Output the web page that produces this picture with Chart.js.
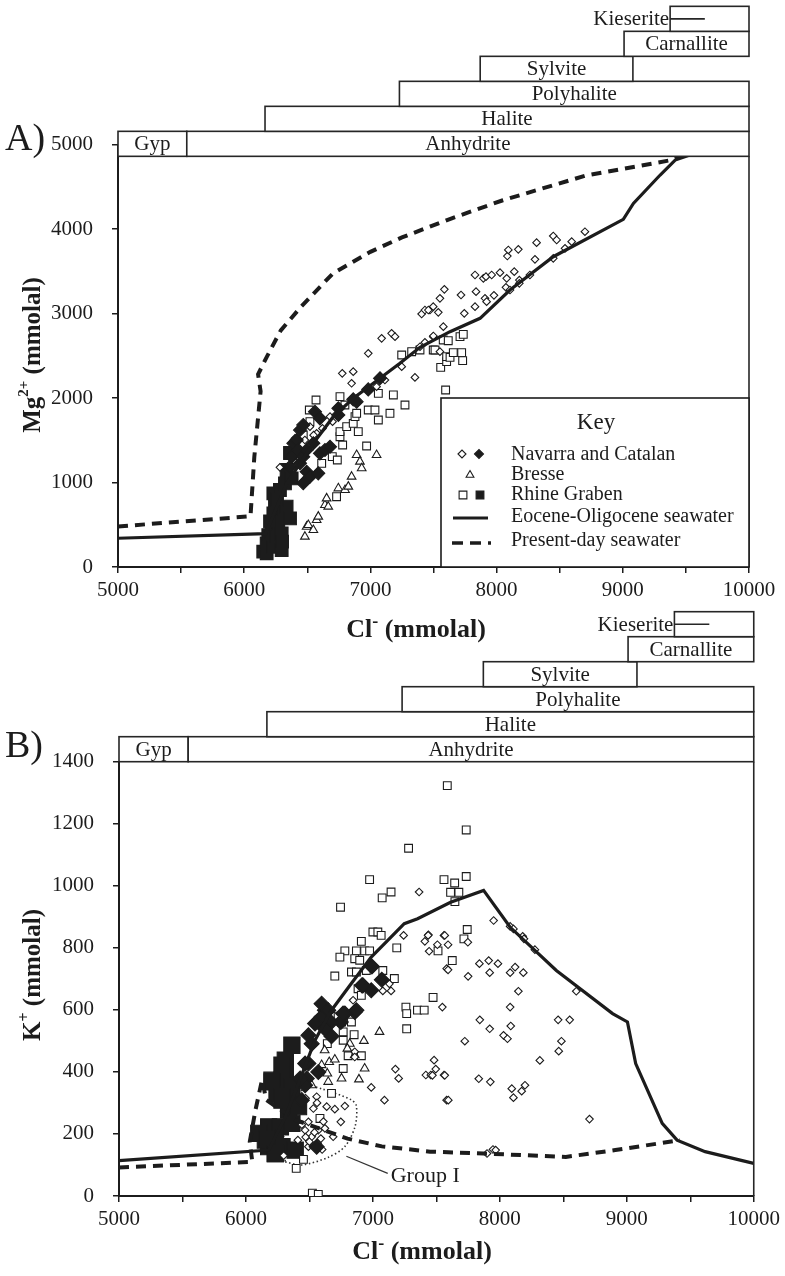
<!DOCTYPE html>
<html lang="en">
<head>
<meta charset="UTF-8">
<title>Mg and K versus Cl</title>
<script src="https://cdn.jsdelivr.net/npm/chart.js@4.4.0/dist/chart.umd.min.js"></script>
<style>
  body { margin: 0; background: #fff; overflow: hidden; }
  #wrap { position: relative; width: 785px; height: 1276px; }
  canvas { position: absolute; left: 0; }
  #chartA { top: 0; }
  #chartB { top: 590px; }
</style>
</head>
<body>
<div id="wrap">
  <canvas id="chartA" width="785" height="650"></canvas>
  <canvas id="chartB" width="785" height="686"></canvas>
</div>
<script>
// ---- series names ----
const seriesNames = ['Navarra and Catalan', 'Bresse', 'Rhine Graben', 'Eocene-Oligocene seawater', 'Present-day seawater'];

// ---- evaporite mineral fields (Cl- mmolal) ----
const mineralNames = ['Gyp', 'Anhydrite', 'Halite', 'Polyhalite', 'Sylvite', 'Carnallite', 'Kieserite'];
const mineralFrom  = [5000, 5545, 6165, 7230, 7870, 9010, 9375];
const mineralTo    = [5545, 10000, 10000, 10000, 9080, 10000, 10000];
const mineralLevel = [0, 0, 1, 2, 3, 4, 5];
const kieseriteMark = 9650;

// ---- A) Mg2+ vs Cl- ----
const navOpenA = [
  [6283,1179],[6402,1523],[6481,1503],[6521,1661],[6574,1582],[6680,1779],[6620,1640],[6700,1720],[6550,1560],
  [6777,2292],[6864,2312],[6851,2174],[6983,2529],[7049,2134],[7115,2213],[7089,2706],[7168,2765],[7195,2726],
  [7248,2371],[7353,2244],[7406,2994],[7432,3041],[7472,3041],[7498,3081],[7538,3014],[7551,3179],[7586,3286],
  [7578,2844],[7432,2659],[7498,2726],[7551,2548],[7393,2607],[7459,3041],[7499,2734],
  [7718,3219],[7744,3002],[7829,3081],[7908,3180],[7921,3140],[7979,3215],[7837,3258],[7829,3456],[7895,3416],
  [7916,3436],[7961,3456],[8027,3483],[8074,3310],[8080,3416],[8140,3495],[8085,3680],[8093,3752],[8172,3759],
  [8180,3396],[8106,3278],[8180,3357],[8264,3456],[8304,3641],[8449,3653],[8317,3838],[8449,3917],[8476,3870],
  [8542,3771],[8595,3850],[8700,3968]
];
const navFilledA = [
  [6363,1187],[6376,1306],[6389,1464],[6416,1503],[6429,1385],[6442,1227],[6442,1621],[6468,990],[6468,1306],
  [6468,1681],[6495,1128],[6495,1385],[6521,1069],[6548,1464],[6561,1838],[6587,1108],[6600,1345],[6600,1759],
  [6640,1385],[6680,1424],[6746,1799],[6746,1878],[6864,1984],[6891,1957],[6983,2102],[7076,2233]
];
const bresseA = [
  [6481,359],[6495,477],[6508,497],[6548,438],[6574,556],[6587,596],[6640,734],[6653,812],[6666,714],
  [6746,931],[6799,911],[6825,951],[6851,1069],[6891,1325],[6917,1247],[6931,1168],[7049,1325]
];
const rhineOpenA = [
  [6468,1562],[6516,1858],[6521,1720],[6569,1976],[6614,1227],[6698,1306],[6732,832],[6738,1266],[6759,1542],
  [6759,1602],[6759,2016],[6780,1444],[6798,1917],[6812,1661],[6864,1700],[6878,1779],[6891,1819],[6904,1602],
  [6970,1432],[6983,1858],[7036,1858],[7063,1740],[7063,2055],[7155,1819],[7182,2036],[7274,1917],[7248,2509],
  [7327,2548],[7393,2568],[7498,2568],[7512,2568],[7557,2363],[7577,2686],[7596,2095],[7604,2430],[7604,2489],
  [7617,2678],[7631,2481],[7657,2537],[7710,2726],[7723,2537],[7731,2442],[7736,2753]
];
const rhineFilledA = [
  [6151,181],[6178,162],[6178,280],[6191,378],[6218,418],[6231,240],[6231,635],[6231,872],[6244,753],
  [6257,359],[6270,517],[6283,911],[6297,201],[6297,398],[6310,674],[6323,990],[6336,714],[6336,1148],
  [6363,576],[6376,1049],[6363,1349],[6205,540],[6260,800],[6300,300]
];
const eoceneA = [
  [5000,340],[6170,395],[6337,990],[6548,1464],[6706,1779],[6865,1996],[7076,2233],[7234,2411],[7393,2600],
  [7631,2785],[7869,2943],[8106,3278],[8449,3672],[9004,4114],[9084,4303],[9296,4639],[9415,4816],[9520,4870]
];
const presentA = [
  [5000,480],[6050,600],[6080,1300],[6130,2080],[6110,2280],[6180,2490],[6290,2800],[6450,3080],[6700,3470],
  [7000,3730],[7250,3900],[7650,4130],[8050,4340],[8700,4630],[9400,4820],[9460,4860]
];

// ---- B) K+ vs Cl- ----
const navOpenB = [
  [7364,980],[7242,840],[7437,842],[7409,821],[7443,789],[7508,810],[7560,840],[7547,609],[7482,438],[7495,409],
  [7560,390],[7417,390],[7456,390],[7177,409],[7203,379],[6987,350],[7091,309],[6844,631],[7078,661],[7143,661],
  [7130,684],[6857,465],[6857,448],[6557,320],[6636,288],[6779,290],[6747,239],[6531,282],[6492,239],[6409,180],
  [6466,212],[6518,191],[6570,212],[6622,218],[6687,191],[6565,170],[6492,159],[6297,130],[7581,733],[7581,309],
  [6440,230],[6470,190],[6500,175],[6540,205],[6590,185],[6610,240],[6700,280],[6560,300],[6470,315],[6600,150],
  [7951,888],[8081,869],[8107,861],[8180,837],[8190,829],[8276,794],[7435,840],[7566,840],[7592,810],[7748,818],
  [7592,729],[7750,708],[7839,749],[7912,759],[7985,749],[7920,720],[8081,720],[8120,738],[8185,720],[8146,660],
  [8602,660],[8081,609],[7842,568],[7920,539],[8086,548],[8029,518],[8060,507],[7724,499],[8459,568],[8550,568],
  [8485,499],[8464,467],[8315,437],[7469,389],[7566,389],[7834,378],[7925,368],[8094,346],[8107,317],[8172,338],
  [8198,357],[7594,309],[8706,248],[7899,137],[7946,150],[7967,148]
];
const navFilledB = [
  [6992,740],[7070,697],[6914,679],[6987,663],[6857,593],[6779,588],[6747,561],[6674,515],[6622,599],[6596,577],
  [6544,556],[6492,518],[6518,491],[6492,427],[6570,400],[6479,379],[6466,357],[6440,309],[6557,159],[6596,620],
  [6648,599],[6765,588],[6870,599],[6921,679],[6466,427],[6427,379],[6670,560],[6620,540]
];
const bresseB = [
  [7052,529],[6929,500],[6818,491],[6799,475],[6656,432],[6596,422],[6641,395],[6648,368],[6753,379],[6935,411],
  [6890,376],[6518,357],[6857,454],[6700,440],[6620,470]
];
const rhineOpenB = [
  [7586,1323],[7281,1121],[6974,1020],[7073,961],[7143,980],[6745,931],[7560,1020],[7000,851],[7039,851],[7065,840],
  [6909,821],[6779,790],[6870,790],[6935,790],[6974,790],[6740,770],[6857,765],[6896,760],[6831,722],[6870,722],
  [6948,727],[6700,709],[7078,727],[7169,701],[6883,668],[6909,647],[7474,640],[7513,790],[7188,800],[7260,609],
  [7266,588],[7351,599],[7404,599],[7266,539],[6726,580],[6753,561],[6831,561],[6766,529],[6852,520],[6641,491],
  [6766,502],[6805,452],[6909,452],[6674,331],[6583,250],[6453,118],[6396,89],[6523,9],[6570,5],[6766,411],
  [7735,1180],[7735,1030],[7644,1009],[7612,979],[7677,979],[7646,949],[7743,859],[7717,829],[7625,759]
];
const rhineFilledB = [
  [6362,486],[6310,438],[6310,406],[6284,373],[6205,373],[6245,331],[6362,352],[6284,309],[6388,298],[6336,277],
  [6414,288],[6179,223],[6271,223],[6153,180],[6231,180],[6179,159],[6284,159],[6231,137],[6388,148],[6101,202],
  [6284,422],[6206,368],[6284,320],[6362,234],[6167,186],[6232,137]
];
const eoceneB = [
  [5000,114],[6180,148],[6310,255],[6414,363],[6544,502],[6674,599],[6830,685],[6987,770],[7117,824],[7247,878],
  [7352,894],[7612,947],[7872,985],[8080,867],[8445,727],[8888,588],[9005,561],[9070,427],[9279,234],[9396,180],
  [9617,143],[10000,105]
];
const presentB = [
  [5000,92],[6050,110],[6030,175],[6075,277],[6127,375],[6160,310],[6390,245],[6800,185],[7070,160],[7450,143],
  [7870,137],[8520,126],[8910,148],[9420,180]
];
const groupI = [
  [6310,110],[6440,100],[6650,125],[6780,160],[6860,225],[6870,290],[6830,310],[6600,345],[6490,352],[6360,310],
  [6310,265],[6297,160],[6310,110]
];
const groupILeader = [[6791,128],[7117,73]];
const groupILabel = 'Group I';

// ---- drawing helpers ----
const SERIF = '"Liberation Serif", "Times New Roman", serif';
const INK = '#1c1c1c';
const font = (size, bold) => (bold ? 'bold ' : '') + size + 'px ' + SERIF;
const xy = pts => pts.map(p => ({ x: p[0], y: p[1] }));

function markers(pts, style, r, filled) {
  return {
    data: xy(pts), showLine: false, pointStyle: style, pointRadius: r,
    pointBackgroundColor: filled ? INK : '#fff', pointBorderColor: INK, pointBorderWidth: 1.1
  };
}
function curve(pts, width, dash, color) {
  return {
    data: xy(pts), showLine: true, pointRadius: 0, borderColor: color || INK, borderWidth: width,
    borderDash: dash || [], tension: 0, fill: false
  };
}

// bold axis title with a superscript part, centred on (cx, cy)
function richTitle(ctx, parts, cx, cy, rot) {
  ctx.save();
  ctx.translate(cx, cy);
  if (rot) ctx.rotate(rot);
  ctx.fillStyle = INK;
  ctx.textAlign = 'left';
  ctx.textBaseline = 'alphabetic';
  let total = 0;
  parts.forEach(p => { ctx.font = font(p[1], true); total += ctx.measureText(p[0]).width; });
  let x = -total / 2;
  parts.forEach(p => {
    ctx.font = font(p[1], true);
    ctx.fillText(p[0], x, p[2]);
    x += ctx.measureText(p[0]).width;
  });
  ctx.restore();
}

// mineral boxes stacked above the plot, plus the right side of the frame
const mineralPlugin = {
  id: 'minerals',
  afterDatasetsDraw(chart, args, opts) {
    const { ctx, chartArea: a } = chart;
    const sx = chart.scales.x, sy = chart.scales.y;
    const base = sy.getPixelForValue(opts.frameTop);
    const rowH = 25;
    ctx.save();
    ctx.strokeStyle = '#262626';
    ctx.lineWidth = 1.6;
    ctx.beginPath();
    ctx.moveTo(a.right, base);
    ctx.lineTo(a.right, a.bottom);
    ctx.stroke();
    mineralNames.forEach((name, i) => {
      const x0 = sx.getPixelForValue(mineralFrom[i]);
      const x1 = sx.getPixelForValue(mineralTo[i]);
      const y1 = base - mineralLevel[i] * rowH;
      const y0 = y1 - rowH;
      ctx.fillStyle = '#fff';
      ctx.fillRect(x0, y0, x1 - x0, rowH);
      ctx.strokeRect(x0, y0, x1 - x0, rowH);
      ctx.fillStyle = INK;
      ctx.font = font(21);
      ctx.textBaseline = 'middle';
      if (name === 'Kieserite') {
        ctx.textAlign = 'right';
        ctx.fillText(name, x0 - 1, y0 + rowH / 2 + 1);
        ctx.beginPath();
        ctx.moveTo(x0, y0 + rowH / 2);
        ctx.lineTo(sx.getPixelForValue(kieseriteMark), y0 + rowH / 2);
        ctx.stroke();
      } else {
        ctx.textAlign = 'center';
        ctx.fillText(name, (x0 + x1) / 2, y0 + rowH / 2 + 1);
      }
    });
    ctx.restore();
  }
};

// panel letter, axis titles, key box and group label
const textPlugin = {
  id: 'texts',
  afterDraw(chart, args, o) {
    const { ctx, chartArea: a } = chart;
    ctx.save();
    ctx.fillStyle = INK;
    ctx.textBaseline = 'alphabetic';
    ctx.textAlign = 'left';
    ctx.font = font(38);
    ctx.fillText(o.letter, o.letterAt[0], o.letterAt[1]);
    richTitle(ctx, [['Cl', 26, 9], ['-', 18, -1], [' (mmolal)', 26, 9]], o.xTitleAt[0], o.xTitleAt[1]);
    richTitle(ctx, o.yTitle, o.yTitleAt[0], o.yTitleAt[1], -Math.PI / 2);

    if (o.key) {
      const W = 308, H = 169, L = a.right - W, T = a.bottom - H;
      ctx.fillStyle = '#fff';
      ctx.fillRect(L, T, W, H);
      ctx.strokeStyle = INK;
      ctx.lineWidth = 1.6;
      ctx.strokeRect(L, T, W, H);
      ctx.fillStyle = INK;
      ctx.textAlign = 'center';
      ctx.font = font(23);
      ctx.fillText('Key', L + 155, T + 31);
      ctx.textAlign = 'left';
      ctx.font = font(20);
      const baselines = [62, 82, 102, 124, 148];
      seriesNames.forEach((s, i) => ctx.fillText(s, L + 70, T + baselines[i]));
      const pt = (style, r, fill, x, y) => {
        ctx.fillStyle = fill ? INK : '#fff';
        ctx.strokeStyle = INK;
        ctx.lineWidth = 1.1;
        Chart.helpers.drawPoint(ctx, { pointStyle: style, radius: r, rotation: 0, borderWidth: 1.1 }, x, y);
      };
      pt('rectRot', 4, false, L + 21, T + 56);
      pt('rectRot', 4.5, true, L + 38, T + 56);
      pt('triangle', 4.5, false, L + 29, T + 77);
      pt('rect', 5.5, false, L + 22, T + 97);
      pt('rect', 5.5, true, L + 39, T + 97);
      ctx.strokeStyle = INK;
      ctx.lineWidth = 3;
      ctx.beginPath(); ctx.moveTo(L + 12, T + 120); ctx.lineTo(L + 47, T + 120); ctx.stroke();
      ctx.lineWidth = 3.5;
      ctx.setLineDash([11, 7]);
      ctx.beginPath(); ctx.moveTo(L + 11, T + 145); ctx.lineTo(L + 50, T + 145); ctx.stroke();
      ctx.setLineDash([]);
    }

    if (o.groupLabelAt) {
      ctx.fillStyle = INK;
      ctx.font = font(22);
      ctx.textAlign = 'left';
      ctx.fillText(groupILabel, chart.scales.x.getPixelForValue(o.groupLabelAt[0]),
        chart.scales.y.getPixelForValue(o.groupLabelAt[1]));
    }
    ctx.restore();
  }
};

function axes(yMax, yStep, yWidth) {
  const tickFont = { family: SERIF, size: 21 };
  return {
    x: {
      type: 'linear', min: 5000, max: 10000,
      border: { display: true, color: INK, width: 2 },
      grid: { drawOnChartArea: false, drawTicks: true, tickLength: 6, color: INK, lineWidth: 1.5 },
      ticks: {
        stepSize: 500, autoSkip: false, maxRotation: 0, padding: 5, color: INK, font: tickFont,
        callback: v => (v % 1000 === 0 ? String(v) : '')
      },
      afterFit: s => { s.height = 40; }
    },
    y: {
      type: 'linear', min: 0, max: yMax,
      border: { display: true, color: INK, width: 2 },
      grid: { drawOnChartArea: false, drawTicks: true, tickLength: 6, color: INK, lineWidth: 1.5 },
      ticks: { stepSize: yStep, padding: 19, color: INK, font: tickFont, callback: v => String(v) },
      afterFit: s => { s.width = yWidth; }
    }
  };
}

function build(id, datasets, scales, padding, minerals, texts) {
  return new Chart(document.getElementById(id), {
    type: 'scatter',
    data: { datasets },
    options: {
      responsive: false, animation: false, devicePixelRatio: 1, events: [],
      layout: { padding },
      plugins: { legend: { display: false }, tooltip: { enabled: false }, minerals, texts },
      scales
    },
    plugins: [mineralPlugin, textPlugin]
  });
}

build('chartA', [
  curve(eoceneA, 3.2),
  curve(presentA, 4, [10, 7]),
  markers(navFilledA, 'rectRot', 6.5, true),
  markers(navOpenA, 'rectRot', 3.8, false),
  markers(bresseA, 'triangle', 5, false),
  markers(rhineOpenA, 'rect', 5.5, false),
  markers(rhineFilledA, 'rect', 9, true)
], axes(5000, 1000, 118), { left: 0, right: 36, top: 144.5, bottom: 43 },
  { frameTop: 4860 },
  {
    letter: 'A)', letterAt: [5, 150], xTitleAt: [416, 628],
    yTitle: [['Mg', 25, 8], ['2+', 15, -4], [' (mmolal)', 25, 8]], yTitleAt: [32, 355], key: true
  });

build('chartB', [
  curve(eoceneB, 3.2),
  curve(presentB, 4, [10, 7]),
  curve(groupILeader, 1.2, [], '#333'),
  markers(navFilledB, 'rectRot', 7.5, true),
  markers(navOpenB, 'rectRot', 3.8, false),
  markers(bresseB, 'triangle', 5, false),
  markers(rhineOpenB, 'rect', 5.5, false),
  markers(rhineFilledB, 'rect', 11.5, true),
  Object.assign(curve(groupI, 1.6, [1.5, 2.5], '#333'), { tension: 0.3 })
], axes(1400, 200, 119), { left: 0, right: 26, top: 171.7, bottom: 40 },
  { frameTop: 1400 },
  {
    letter: 'B)', letterAt: [5, 167], xTitleAt: [422, 660],
    yTitle: [['K', 25, 8], ['+', 16, -3], [' (mmolal)', 25, 8]], yTitleAt: [32, 385],
    groupLabelAt: [7140, 45]
  });
</script>
</body>
</html>
